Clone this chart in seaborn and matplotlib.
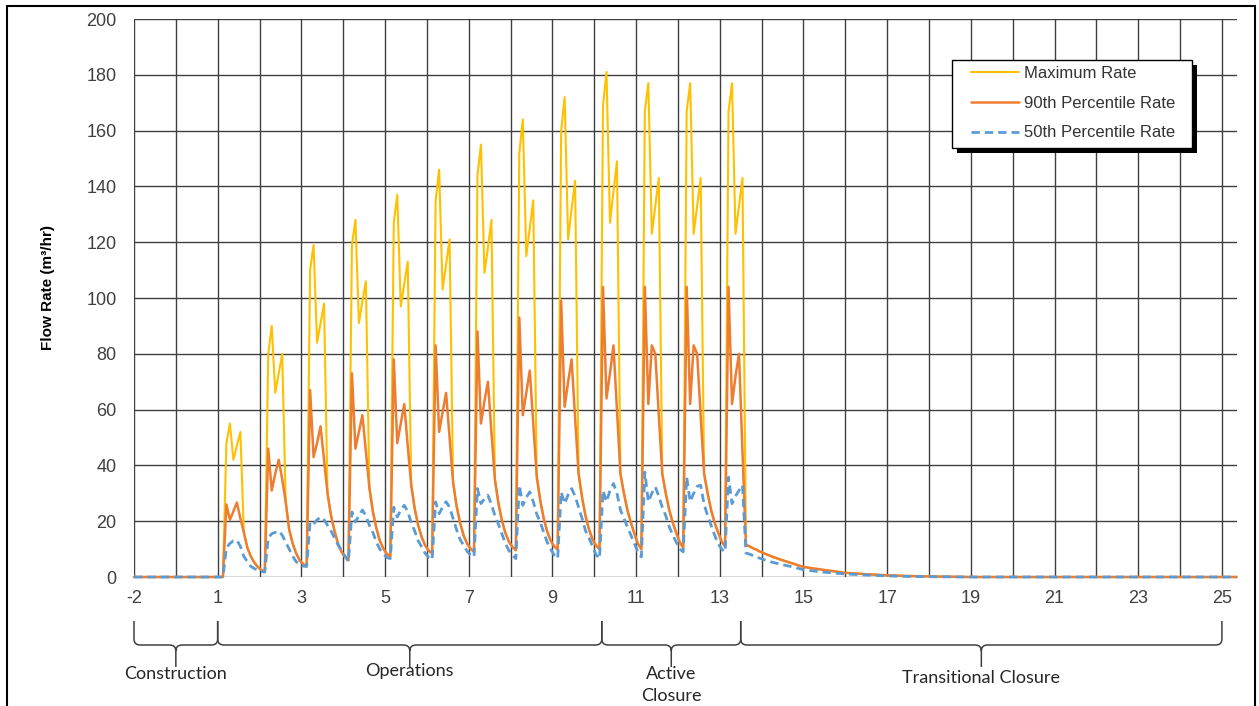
import numpy as np
import pandas as pd
import seaborn as sns
import matplotlib.pyplot as plt
from matplotlib.patches import Rectangle, PathPatch
from matplotlib.path import Path
from matplotlib.transforms import blended_transform_factory

# category axis: one slot per year, there is no year 0
year_labels = [-2, -1] + list(range(1, 26))

series_names = ["Maximum Rate", "90th Percentile Rate", "50th Percentile Rate"]
series_colors = ["#FFC000", "#ED7D31", "#5B9BD5"]

# monthly flow rates (m3/hr), one row per year 1..13, months 0..11
max_rate = [
    [0, 0, 48, 55, 42, 47, 52, 16, 10.5, 7.4, 5.2, 3.6],
    [2.5, 1.8, 80, 90, 66, 73, 80, 27, 17, 12, 8.5, 6],
    [4.6, 3.8, 110, 119, 84, 91, 98, 30, 22, 16.5, 12, 9],
    [7.2, 6, 119, 128, 91, 99, 106, 32, 23.5, 17.5, 13, 10.2],
    [8.3, 7.2, 127, 137, 97, 105, 113, 33, 24.5, 18.5, 14.3, 11.3],
    [9.5, 8.4, 135, 146, 103, 112, 121, 34, 25.5, 19.5, 15, 12],
    [10.2, 9, 144, 155, 109, 118, 128, 35, 26.5, 20.3, 15.8, 12.7],
    [10.8, 9.6, 152, 164, 115, 125, 135, 36, 27.5, 21, 16.3, 13],
    [11, 9.8, 160, 172, 121, 132, 142, 37, 28.5, 21.8, 17, 13.5],
    [11.3, 10, 169, 181, 127, 138, 149, 37, 30, 24, 19.5, 15.5],
    [12, 10, 167, 177, 123, 133, 143, 37, 30, 24, 19.5, 15.8],
    [12.5, 10.5, 167, 177, 123, 133, 143, 37, 30, 24, 19.5, 16],
    [12.8, 11, 167, 177, 123, 133, 143, 11.5, 11, 10.3, 9.8, 9.1],
]
p90_rate = [
    [0, 0, 26, 20.5, 23.5, 26.7, 21, 16, 10.5, 7.4, 5.2, 3.6],
    [2.5, 1.8, 46, 31, 37, 42, 35, 27, 17, 12, 8.5, 6],
    [4.6, 3.8, 67, 43, 48, 54, 42, 30, 22, 16.5, 12, 9],
    [7.2, 6, 73, 46, 52, 58, 45, 32, 23.5, 17.5, 13, 10.2],
    [8.3, 7.2, 78, 48, 55, 62, 47, 33, 24.5, 18.5, 14.3, 11.3],
    [9.5, 8.4, 83, 52, 59, 66, 50, 34, 25.5, 19.5, 15, 12],
    [10.2, 9, 88, 55, 63, 70, 52, 35, 26.5, 20.3, 15.8, 12.7],
    [10.8, 9.6, 93, 58, 66, 74, 55, 36, 27.5, 21, 16.3, 13],
    [11, 9.8, 99, 61, 70, 78, 57, 37, 28.5, 21.8, 17, 13.5],
    [11.3, 10, 104, 64, 73, 83, 60, 37, 30, 24, 19.5, 15.5],
    [12, 10, 104, 62, 83, 80, 58, 37, 30, 24, 19.5, 15.8],
    [12.5, 10.5, 104, 62, 83, 80, 58, 37, 30, 24, 19.5, 16],
    [12.8, 11, 104, 62, 72, 80, 45, 11.5, 11, 10.3, 9.8, 9.1],
]
p50_rate = [
    [0, 0, 10.5, 12, 13, 13.2, 11, 7.4, 5.5, 3.8, 3, 2.5],
    [2, 1.8, 14, 15.5, 16, 16.5, 15, 12.5, 10, 7.5, 5.5, 4.5],
    [3.9, 3.8, 19.7, 19, 20.5, 21.5, 20.5, 18.5, 16.5, 14, 11.5, 9.6],
    [7.5, 5.6, 23.3, 19.7, 22, 24, 22, 18.5, 16, 12.5, 10, 8.3],
    [7, 6.6, 25, 21.5, 24, 25.7, 23.5, 19.5, 16.5, 13, 10.8, 8.5],
    [7, 6.2, 26.9, 22.7, 25, 27, 25, 21, 17, 13.5, 11.4, 9.3],
    [7.8, 7.2, 31.7, 26.3, 28, 29.3, 26, 22, 19, 15.5, 12, 9.5],
    [7.8, 6.6, 32.9, 25.7, 28.5, 30.5, 27, 22.5, 19.7, 16, 12.5, 10],
    [7.8, 6.6, 30.5, 26.3, 29.5, 31.7, 29, 25, 21, 16.5, 14, 11],
    [8, 6.6, 31, 27, 31, 33.5, 30, 24, 21, 18, 15, 12],
    [9, 7.2, 37.6, 27, 30, 32.3, 29, 25, 22, 18, 15, 12.5],
    [10, 9, 35.8, 27, 30, 32.5, 32.9, 26, 22, 18.5, 15, 12],
    [10, 9, 35.8, 26.3, 29, 31, 32.9, 8.6, 8.2, 7.7, 7.2, 6.7],
]

# transitional closure tail, position in year slots
tail_slot = [15.25, 15.5, 15.75, 16.0, 16.5, 17.0, 17.5, 18.0, 18.5, 19.0, 19.5, 20.0, 26.35]
tail_p90 = [7.3, 6.0, 4.8, 3.6, 2.5, 1.5, 1.0, 0.6, 0.35, 0.2, 0.1, 0, 0]
tail_p50 = [5.3, 4.4, 3.6, 2.6, 1.7, 1.1, 0.7, 0.4, 0.2, 0.1, 0.05, 0, 0]

# phases under the axis
phase_edges = [0, 2, 11.18, 14.5, 26]
phase_names = ["Construction", "Operations", "Active\nClosure", "Transitional Closure"]
phase_text_px = [674, 671, 685, 678]

W, H = 1259, 706
sns.set_style("white")
plt.rcParams["font.family"] = ["Liberation Sans", "DejaVu Sans"]

fig = plt.figure(figsize=(W / 100, H / 100), dpi=100)
ax = fig.add_axes([134 / W, 1 - 577 / H, (1237 - 134) / W, (577 - 19) / H])

# year 1 starts at slot 2, points sit mid-month
slots = [0.0]
for i in range(len(max_rate)):
    for k in range(12):
        slots.append(2 + i + (k + 0.5) / 12)
slots += tail_slot

series_vals = [
    [0] + [v for row in max_rate for v in row] + tail_p90,
    [0] + [v for row in p90_rate for v in row] + tail_p90,
    [0] + [v for row in p50_rate for v in row] + tail_p50,
]
widths = [1.5, 1.8, 2.0]
styles = ["-", "-", (0, (3.0, 1.8))]

for name, vals, col, lw, ls in zip(series_names, series_vals, series_colors, widths, styles):
    df = pd.DataFrame({"slot": slots, "rate": vals})
    sns.lineplot(data=df, x="slot", y="rate", ax=ax, color=col, lw=lw, ls=ls,
                 label=name, estimator=None, sort=False, clip_on=False)

handles, labels = ax.get_legend_handles_labels()
if ax.get_legend() is not None:
    ax.get_legend().remove()

ax.set_xlim(0, 26.36)
ax.set_ylim(0, 200)
ax.set_xticks(range(len(year_labels)))
ax.set_xticklabels([str(v) if i % 2 == 0 else "" for i, v in enumerate(year_labels)])
ax.set_yticks(range(0, 201, 20))
ax.grid(True, color="#3f3f3f", lw=1.0)
ax.set_axisbelow(True)
for s in ax.spines.values():
    s.set_visible(False)
ax.tick_params(direction="out", length=4.5, width=1.0, color="#3f3f3f",
               labelsize=13, labelcolor="#404040")
ax.tick_params(axis="x", pad=5)
ax.tick_params(axis="y", pad=8)
ax.set_xlabel("")
ax.set_ylabel("Flow Rate (m³/hr)", fontsize=11, fontweight="bold", color="black")
ax.yaxis.set_label_coords((55 - 134) / 1103, (577 - 287.5) / 558)

# braces for the phases
trans = blended_transform_factory(ax.transData, ax.transAxes)


def ay(py):
    return (577 - py) / 558


y_tip, y_bar, y_cusp = ay(621), ay(645), ay(667)
rr = 6 / 558
r = 0.15
for i in range(len(phase_names)):
    x0, x1 = phase_edges[i], phase_edges[i + 1]
    xc = (x0 + x1) / 2
    verts = [(x0, y_tip), (x0, y_bar + rr), (x0, y_bar), (x0 + r, y_bar),
             (xc - r, y_bar), (xc, y_bar), (xc, y_bar - rr), (xc, y_cusp),
             (xc, y_bar - rr), (xc, y_bar), (xc + r, y_bar),
             (x1 - r, y_bar), (x1, y_bar), (x1, y_bar + rr), (x1, y_tip)]
    codes = [Path.MOVETO, Path.LINETO, Path.CURVE3, Path.CURVE3,
             Path.LINETO, Path.CURVE3, Path.CURVE3, Path.LINETO,
             Path.MOVETO, Path.CURVE3, Path.CURVE3,
             Path.LINETO, Path.CURVE3, Path.CURVE3, Path.LINETO]
    ax.add_patch(PathPatch(Path(verts, codes), transform=trans, fill=False,
                           ec="#404040", lw=1.1, clip_on=False))
    ax.text(xc, ay(phase_text_px[i]), phase_names[i], transform=trans,
            ha="center", va="center", fontsize=13, family=["Lato", "DejaVu Sans"],
            color="#262626", linespacing=1.4)

# legend with a solid drop shadow
fig.add_artist(Rectangle((957 / W, 1 - 153 / H), 240 / W, 88 / H, transform=fig.transFigure,
                         fc="black", ec="none", zorder=3))
fig.add_artist(Rectangle((952 / W, 1 - 148 / H), 240 / W, 88 / H, transform=fig.transFigure,
                         fc="white", ec="black", lw=1.0, zorder=4))
fig.legend(handles, labels, loc="upper left", bbox_to_anchor=(971 / W, 1 - 66 / H),
           frameon=False, fontsize=12, handlelength=2.9, handletextpad=0.3,
           labelspacing=0.88, borderpad=0, borderaxespad=0, labelcolor="#333333")

# outer border of the picture
fig.add_artist(Rectangle((7 / W, -0.02), (1255 - 7) / W, 1 - 6 / H + 0.02,
                         transform=fig.transFigure, fill=False, ec="black", lw=1.5))

fig.savefig("out.png", dpi=100)
